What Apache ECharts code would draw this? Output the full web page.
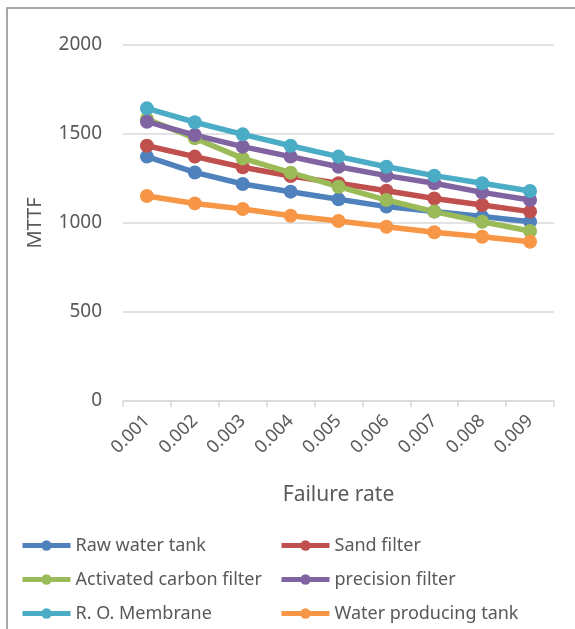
<!DOCTYPE html>
<html><head><meta charset="utf-8">
<script src="https://cdn.jsdelivr.net/npm/echarts@6/dist/echarts.min.js"></script>
<style>html,body{margin:0;padding:0;background:#fff}#c{width:575px;height:629px}</style>
</head><body><div id="c"></div>
<script>
const categories = ['0.001','0.002','0.003','0.004','0.005','0.006','0.007','0.008','0.009'];
const rawWaterTank = [1373,1284,1219,1176,1133,1092,1064,1036,1007];
const sandFilter = [1434,1373,1313,1264,1223,1181,1138,1101,1064];
const activatedCarbonFilter = [1584,1476,1363,1283,1204,1129,1064,1007,955];
const precisionFilter = [1569,1494,1429,1373,1316,1266,1223,1172,1129];
const roMembrane = [1644,1566,1498,1434,1373,1316,1266,1223,1180];
const waterProducingTank = [1152,1110,1079,1041,1011,979,948,923,895];
const yTicks = [0,500,1000,1500,2000];

const seriesNames = ['Raw water tank','Sand filter','Activated carbon filter','precision filter','R. O. Membrane','Water producing tank'];
const seriesData = [rawWaterTank,sandFilter,activatedCarbonFilter,precisionFilter,roMembrane,waterProducingTank];
const colors = ['#4f81bd','#c0504d','#9bbb59','#8064a2','#4bacc6','#f79646'];
const FONT = '"Noto Sans", "Open Sans", sans-serif';

const chart = echarts.init(document.getElementById('c'), null, {renderer:'canvas'});
const legendCommon = {
  orient:'vertical', itemWidth:48, itemHeight:13, itemGap:13, itemTextGap:0,
  lineStyle:{width:5},
  textStyle:{fontFamily:FONT, fontSize:18, color:'#595959', lineHeight:21},
  top:535, height:120, padding:0
};
chart.setOption({
  animation:false,
  color:colors,
  graphic:[{type:'rect', shape:{x:7, y:8, width:700, height:800}, style:{fill:'none', stroke:'#8c8c8c', lineWidth:1.5}, silent:true}],
  grid:{left:123, right:21, top:45, bottom:228},
  legend:[
    Object.assign({left:20, data:[seriesNames[0],seriesNames[2],seriesNames[4]]}, legendCommon),
    Object.assign({left:279, data:[seriesNames[1],seriesNames[3],seriesNames[5]]}, legendCommon)
  ],
  xAxis:{
    type:'category', data:categories, boundaryGap:true,
    name:'Failure rate', nameLocation:'middle', nameGap:84,
    nameTextStyle:{fontFamily:FONT, fontSize:21, color:'#595959'},
    axisLine:{lineStyle:{color:'#d9d9d9', width:1.5}},
    axisTick:{show:true, length:6, lineStyle:{color:'#d9d9d9', width:1.5}},
    axisLabel:{rotate:45, margin:17, fontFamily:FONT, fontSize:18, color:'#595959'}
  },
  yAxis:{
    type:'value', min:yTicks[0], max:yTicks[yTicks.length-1], interval:500,
    name:'MTTF', nameLocation:'middle', nameGap:78,
    nameTextStyle:{fontFamily:FONT, fontSize:20, color:'#595959'},
    axisLine:{show:false}, axisTick:{show:false},
    axisLabel:{margin:21, fontFamily:FONT, fontSize:19, color:'#595959', formatter:v=>String(v)},
    splitLine:{lineStyle:{color:'#d9d9d9', width:1.5}}
  },
  series:seriesNames.map((n,i)=>({
    name:n, type:'line', data:seriesData[i],
    symbol:'circle', symbolSize:14,
    lineStyle:{width:5.5, color:colors[i]},
    itemStyle:{color:colors[i]}
  }))
});
</script></body></html>
